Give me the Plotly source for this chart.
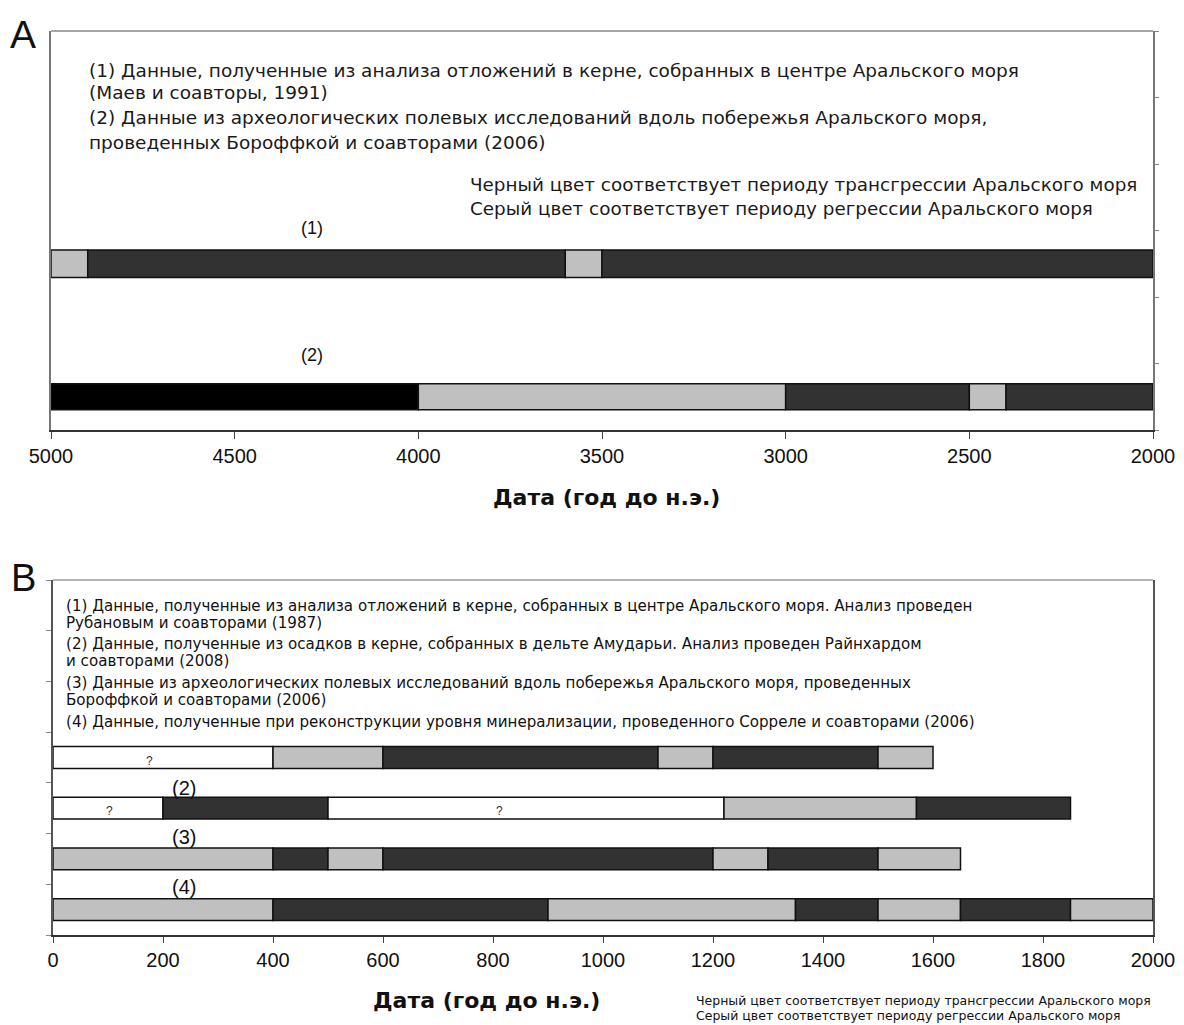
import plotly.graph_objects as go

# ---------- data ----------
# Panel A: years BC on a reversed axis, segments given by their boundaries
a_rows = ["(1)", "(2)"]
a1_edges = [5000, 4900, 3600, 3500, 2000]
a1_states = ["R", "T", "R", "T"]
a2_edges = [5000, 4000, 3000, 2500, 2400, 2000]
a2_states = ["K", "R", "T", "R", "T"]
a_ticks = [5000, 4500, 4000, 3500, 3000, 2500, 2000]

# Panel B
b_rows = ["(1)", "(2)", "(3)", "(4)"]
b1_edges = [0, 400, 600, 1100, 1200, 1500, 1600]
b1_states = ["U", "R", "T", "R", "T", "R"]
b2_edges = [0, 200, 500, 1220, 1570, 1850]
b2_states = ["U", "T", "U", "R", "T"]
b3_edges = [0, 400, 500, 600, 1200, 1300, 1500, 1650]
b3_states = ["R", "T", "R", "T", "R", "T", "R"]
b4_edges = [0, 400, 900, 1350, 1500, 1650, 1850, 2000]
b4_states = ["R", "T", "R", "T", "R", "T", "R"]
b_ticks = [0, 200, 400, 600, 800, 1000, 1200, 1400, 1600, 1800, 2000]

# positions of question marks on unknown stretches (year, row)
b_unknown_marks = [(176, "(1)"), (103, "(2)"), (811, "(2)")]

a_notes = [
    "(1) Данные, полученные из анализа отложений в керне, собранных в центре Аральского моря",
    "(Маев и соавторы, 1991)",
    "(2) Данные из археологических полевых исследований вдоль побережья Аральского моря,",
    "проведенных Бороффкой и соавторами (2006)",
]
b_notes = [
    "(1) Данные, полученные из анализа отложений в керне, собранных в центре Аральского моря. Анализ проведен",
    "Рубановым и соавторами (1987)",
    "(2) Данные, полученные из осадков в керне, собранных в дельте Амударьи. Анализ проведен Райнхардом",
    "и соавторами (2008)",
    "(3) Данные из археологических полевых исследований вдоль побережья Аральского моря, проведенных",
    "Бороффкой и соавторами (2006)",
    "(4) Данные, полученные при реконструкции уровня минерализации, проведенного Сорреле и соавторами (2006)",
]
key_lines = [
    "Черный цвет соответствует периоду трансгрессии Аральского моря",
    "Серый цвет соответствует периоду регрессии Аральского моря",
]
axis_title = "Дата (год до н.э.)"

# ---------- styling ----------
W, H = 1184, 1025
state_color = {"T": "#323232", "R": "#c0c0c0", "U": "#ffffff", "K": "#000000"}
ARIAL = "Liberation Sans, Arial, sans-serif"
WIDE = "DejaVu Sans, Verdana, sans-serif"

a_ypos = {"(1)": 2.5, "(2)": 0.5}
b_ypos = {"(1)": 3.5, "(2)": 2.5, "(3)": 1.5, "(4)": 0.5}


def px_x(p):
    return p / W


def px_y(p):
    return 1 - p / H


def segment_trace(edges, states, ypos, width, xaxis, yaxis):
    bases = edges[:-1]
    lengths = [e1 - e0 for e0, e1 in zip(edges[:-1], edges[1:])]
    return go.Bar(
        orientation="h",
        y=[ypos] * len(lengths),
        x=lengths,
        base=bases,
        width=width,
        marker=dict(color=[state_color[s] for s in states],
                    line=dict(color="#111111", width=1.5)),
        xaxis=xaxis, yaxis=yaxis,
        showlegend=False, hoverinfo="skip",
    )


def paper_text(text, x, y, size, family, anchor="left", color="#1a1a1a"):
    return dict(text=text, x=px_x(x), y=px_y(y), xref="paper", yref="paper",
                xanchor=anchor, yanchor="middle", showarrow=False,
                font=dict(family=family, size=size, color=color))


fig = go.Figure()
fig.add_trace(segment_trace(a1_edges, a1_states, a_ypos["(1)"], 0.41, "x", "y"))
fig.add_trace(segment_trace(a2_edges, a2_states, a_ypos["(2)"], 0.39, "x", "y"))
for edges, states, row in [(b1_edges, b1_states, "(1)"), (b2_edges, b2_states, "(2)"),
                           (b3_edges, b3_states, "(3)"), (b4_edges, b4_states, "(4)")]:
    fig.add_trace(segment_trace(edges, states, b_ypos[row], 0.43, "x2", "y2"))

ann = []
# panel letters
ann.append(paper_text("A", 8, 34, 39, ARIAL, color="#111"))
ann.append(paper_text("B", 9, 578, 38, ARIAL, color="#111"))

# panel A notes and colour key
for line, yy in zip(a_notes, [70, 93, 118, 142]):
    ann.append(paper_text(line, 87, yy, 18.5, WIDE))
for line, yy in zip(key_lines, [185, 209]):
    ann.append(paper_text(line, 468, yy, 18.35, WIDE))
# row labels A
for row, yv in [("(1)", 3.04), ("(2)", 1.13)]:
    ann.append(dict(text=row, x=4290, y=yv, xref="x", yref="y", showarrow=False,
                    xanchor="center", yanchor="middle",
                    font=dict(family=ARIAL, size=18, color="#111")))
ann.append(paper_text("<b>" + axis_title + "</b>", 606, 497, 22, WIDE,
                      anchor="center", color="#111"))

# panel B notes
for line, yy in zip(b_notes, [606, 623, 644, 661, 683, 700, 722]):
    ann.append(paper_text(line, 64, yy, 15.1, WIDE, color="#111"))
for row, yv in [("(2)", 2.9), ("(3)", 1.93), ("(4)", 0.95)]:
    ann.append(dict(text=row, x=238, y=yv, xref="x2", yref="y2", showarrow=False,
                    xanchor="center", yanchor="middle",
                    font=dict(family=ARIAL, size=20, color="#111")))
for xv, row in b_unknown_marks:
    ann.append(dict(text="?", x=xv, y=b_ypos[row] - 0.06, xref="x2", yref="y2",
                    showarrow=False, xanchor="center", yanchor="middle",
                    font=dict(family=ARIAL, size=12, color="#333333")))
ann.append(paper_text("<b>" + axis_title + "</b>", 486, 1000, 22, WIDE,
                      anchor="center", color="#111"))
for line, yy in zip(key_lines, [1000, 1015]):
    ann.append(paper_text(line, 694, yy, 12.5, WIDE, color="#111"))

fig.update_layout(
    template="none",
    width=W, height=H,
    margin=dict(l=0, r=0, t=0, b=0, pad=0),
    paper_bgcolor="white", plot_bgcolor="white",
    barmode="overlay",
    showlegend=False,
    annotations=ann,
    xaxis=dict(domain=[px_x(51), px_x(1153)], range=[5000, 2000], anchor="y",
               automargin=False,
               tickvals=a_ticks, ticks="outside", ticklen=7, tickcolor="#444",
               showline=True, linecolor="#333", linewidth=2, mirror=False,
               showgrid=False, zeroline=False,
               tickfont=dict(family=ARIAL, size=20, color="#111")),
    yaxis=dict(domain=[px_y(430), px_y(31)], range=[0, 6], anchor="x", side="right",
               automargin=False,
               tickvals=[0, 1, 2, 3, 4, 5, 6], showticklabels=False,
               ticks="outside", ticklen=4, tickcolor="#888",
               showline=True, linecolor="#777", linewidth=1.5, mirror=True,
               showgrid=False, zeroline=False),
    xaxis2=dict(domain=[px_x(53), px_x(1153)], range=[0, 2000], anchor="y2",
                automargin=False,
                tickvals=b_ticks, ticks="outside", ticklen=6, tickcolor="#444",
                showline=True, linecolor="#333", linewidth=2, mirror=False,
                showgrid=False, zeroline=False,
                tickfont=dict(family=ARIAL, size=20, color="#111")),
    yaxis2=dict(domain=[px_y(935), px_y(580)], range=[0, 7], anchor="x2", side="left",
                automargin=False,
                tickvals=[0, 1, 2, 3, 4, 5, 6, 7], showticklabels=False,
                ticks="outside", ticklen=5, tickcolor="#888",
                showline=True, linecolor="#555", linewidth=1.5, mirror=True,
                showgrid=False, zeroline=False),
    shapes=[
        dict(type="line", xref="x domain", yref="y domain", x0=0, x1=1, y0=1, y1=1,
             line=dict(color="#888", width=1.5)),
        dict(type="line", xref="x2 domain", yref="y2 domain", x0=0, x1=1, y0=1, y1=1,
             line=dict(color="#999", width=1.5)),
    ],
)

fig.write_html("out.html")
